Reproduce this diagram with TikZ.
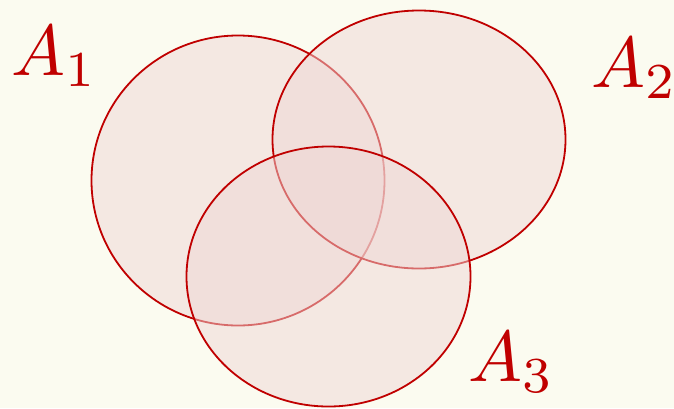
\documentclass[tikz,border=0pt]{standalone}
\usepackage{graphicx}
\usepackage{tikz}
\usetikzlibrary{shapes.geometric}
\definecolor{vennred}{HTML}{C00000}
\definecolor{vennfill}{RGB}{239,215,213}
\definecolor{vennbg}{HTML}{FBFBF0}
\newcommand{\setname}[1]{\scalebox{7.2}{$#1$}}

\begin{document}
\begin{tikzpicture}[x=1pt, y=-1pt,
    setshape/.style={ellipse, draw=vennred, line width=1.8pt, fill=vennfill,
                     fill opacity=0.5, draw opacity=1, inner sep=0pt},
    setlabel/.style={text=vennred, inner sep=0pt}]
  \fill[vennbg] (0,0) rectangle (674,408);
  \useasboundingbox (0,0) rectangle (674,408);
  % the three sets
  \node[setshape, minimum width=293pt, minimum height=290pt] (s1) at (238,180.5) {};
  \node[setshape, minimum width=293pt, minimum height=258pt] (s2) at (419,139.5) {};
  \node[setshape, minimum width=284pt, minimum height=260pt] (s3) at (328.5,276.5) {};
  % labels
  \node[setlabel] (l1) at (55,56) {\setname{A_1}};
  \node[setlabel] (l2) at (635,68) {\setname{A_2}};
  \node[setlabel] (l3) at (512,362) {\setname{A_3}};
\end{tikzpicture}
\end{document}
